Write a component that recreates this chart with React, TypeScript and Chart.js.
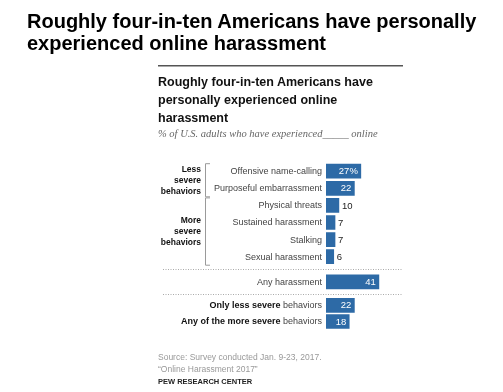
import { useEffect, useRef } from 'react';
import { Chart, registerables } from 'chart.js';

Chart.register(...registerables);

// ---- data ----
const categories = [
  'Offensive name-calling',
  'Purposeful embarrassment',
  'Physical threats',
  'Sustained harassment',
  'Stalking',
  'Sexual harassment',
  'Any harassment',
  'Only less severe behaviors',
  'Any of the more severe behaviors',
];
const boldParts = ['', '', '', '', '', '', '', 'Only less severe', 'Any of the more severe'];
const values = [27, 22, 10, 7, 7, 6, 41, 22, 18];
const valueSuffix = ['%', '', '', '', '', '', '', '', ''];
const groupLabels = [
  ['Less', 'severe', 'behaviors'],
  ['More', 'severe', 'behaviors'],
];
const groupRanges = [
  [0, 1],
  [2, 5],
];
const dividersBefore = [6, 7];

const titleLines = ['Roughly four-in-ten Americans have personally', 'experienced online harassment'];
const innerTitleLines = ['Roughly four-in-ten Americans have', 'personally experienced online', 'harassment'];
const subtitle = '% of U.S. adults who have experienced_____ online';
const sourceLines = ['Source: Survey conducted Jan. 9-23, 2017.', '\u201cOnline Harassment 2017\u201d'];
const credit = 'PEW RESEARCH CENTER';

// ---- layout (not data) ----
const W = 503;
const H = 392;
const FIRST_ROW = 13;
const ROW_PITCH = 19;
const EXTRA_GAP = [0, 0, 0, 0, 0, 0, 9, 7, -1];
const rowPos: number[] = [];
EXTRA_GAP.forEach((g, i) => {
  rowPos.push(i === 0 ? FIRST_ROW : rowPos[i - 1] + ROW_PITCH + g);
});

const BAR_COLOR = '#2d6aa6';
const SANS = '"Liberation Sans", Arial, sans-serif';

const annotPlugin = {
  id: 'annot',
  afterDatasetsDraw(chart: any) {
    const ctx: CanvasRenderingContext2D = chart.ctx;
    const meta = chart.getDatasetMeta(0);
    const xs = chart.scales.x;
    const x0 = xs.getPixelForValue(0);
    const labelRight = x0 - 4;
    const normalF = `9px ${SANS}`;
    const boldF = `bold 9px ${SANS}`;
    ctx.save();
    ctx.textBaseline = 'middle';
    const ys: number[] = [];
    meta.data.forEach((bar: any, i: number) => {
      const y = bar.y;
      ys.push(y);
      const xe = bar.x;
      // value label
      ctx.font = `9.5px ${SANS}`;
      const txt = String(values[i]) + valueSuffix[i];
      if (values[i] >= 15) {
        ctx.fillStyle = '#ffffff';
        ctx.textAlign = 'right';
        ctx.fillText(txt, xe - 3, y + 0.5);
      } else {
        ctx.fillStyle = '#222';
        ctx.textAlign = 'left';
        ctx.fillText(txt, xe + 3, y + 0.5);
      }
      // category label
      const full = categories[i];
      const bold = boldParts[i];
      if (bold) {
        const rest = full.slice(bold.length);
        ctx.font = normalF;
        const wr = ctx.measureText(rest).width;
        ctx.font = boldF;
        const wb = ctx.measureText(bold).width;
        const start = labelRight - wr - wb;
        ctx.textAlign = 'left';
        ctx.fillStyle = '#111';
        ctx.fillText(bold, start, y + 0.5);
        ctx.font = normalF;
        ctx.fillStyle = '#444';
        ctx.fillText(rest, start + wb, y + 0.5);
      } else {
        ctx.font = normalF;
        ctx.textAlign = 'right';
        ctx.fillStyle = '#444';
        ctx.fillText(full, labelRight, y + 0.5);
      }
    });
    // group labels and brackets
    groupRanges.forEach(([a, b], g) => {
      const top = ys[a] - 8;
      const bot = ys[b] + 8;
      const mid = (ys[a] + ys[b]) / 2;
      ctx.strokeStyle = '#9a9a9a';
      ctx.lineWidth = 1;
      ctx.beginPath();
      ctx.moveTo(210, top + 0.5);
      ctx.lineTo(205.5, top + 0.5);
      ctx.lineTo(205.5, bot + 0.5);
      ctx.lineTo(210, bot + 0.5);
      ctx.stroke();
      ctx.font = `bold 8.5px ${SANS}`;
      ctx.fillStyle = '#111';
      ctx.textAlign = 'right';
      const lines = groupLabels[g];
      lines.forEach((ln, k) => {
        ctx.fillText(ln, 201, mid + (k - (lines.length - 1) / 2) * 11 + 0.5);
      });
    });
    // dotted dividers
    ctx.strokeStyle = '#aaaaaa';
    ctx.lineWidth = 1;
    ctx.setLineDash([1, 1.5]);
    dividersBefore.forEach((r) => {
      const y = Math.round((ys[r - 1] + ys[r]) / 2) + 0.5;
      ctx.beginPath();
      ctx.moveTo(163, y);
      ctx.lineTo(403, y);
      ctx.stroke();
    });
    ctx.setLineDash([]);
    // top rule
    ctx.strokeStyle = '#555';
    ctx.lineWidth = 1.5;
    ctx.beginPath();
    ctx.moveTo(158, 65.75);
    ctx.lineTo(403, 65.75);
    ctx.stroke();
    ctx.restore();
  },
};

export default function App() {
  const ref = useRef<HTMLCanvasElement>(null);
  useEffect(() => {
    if (!ref.current) return;
    const chart = new Chart(ref.current, {
      type: 'bar',
      data: {
        datasets: [
          {
            data: values.map((v, i) => ({ x: v, y: rowPos[i] })),
            backgroundColor: BAR_COLOR,
            barThickness: 14,
          },
        ],
      },
      options: {
        indexAxis: 'y',
        animation: false,
        responsive: false,
        devicePixelRatio: 1,
        layout: { padding: { left: 326, right: 99.6, top: 150, bottom: 52 } },
        scales: {
          x: { type: 'linear', min: 0, max: 60, display: false },
          y: { type: 'linear', min: 0, max: 190, reverse: true, display: false },
        },
        plugins: { legend: { display: false }, tooltip: { enabled: false } },
      },
      plugins: [annotPlugin],
    } as any);
    return () => chart.destroy();
  }, []);

  const abs = (extra: any) => ({ position: 'absolute' as const, margin: 0, whiteSpace: 'nowrap' as const, ...extra });

  return (
    <div style={{ position: 'absolute', left: 0, top: 0, width: W, height: H, background: '#fff', overflow: 'hidden' }}>
      <canvas ref={ref} width={W} height={H} style={{ position: 'absolute', left: 0, top: 0 }} />
      <div style={abs({ left: 27, top: 10, font: `bold 20px ${SANS}`, lineHeight: '22px', color: '#000' })}>
        {titleLines.map((t, i) => (
          <div key={i}>{t}</div>
        ))}
      </div>
      <div style={abs({ left: 158, top: 73, font: `bold 12.5px ${SANS}`, lineHeight: '18px', color: '#111' })}>
        {innerTitleLines.map((t, i) => (
          <div key={i}>{t}</div>
        ))}
      </div>
      <div style={abs({ left: 158, top: 127, font: `italic 10.5px "Liberation Serif", serif`, lineHeight: '14px', color: '#666' })}>
        {subtitle}
      </div>
      <div style={abs({ left: 158, top: 351, font: `8.5px ${SANS}`, lineHeight: '12px', color: '#999' })}>
        {sourceLines.map((t, i) => (
          <div key={i}>{t}</div>
        ))}
      </div>
      <div style={abs({ left: 158, top: 377, font: `bold 7.5px ${SANS}`, lineHeight: '10px', color: '#222' })}>{credit}</div>
    </div>
  );
}
